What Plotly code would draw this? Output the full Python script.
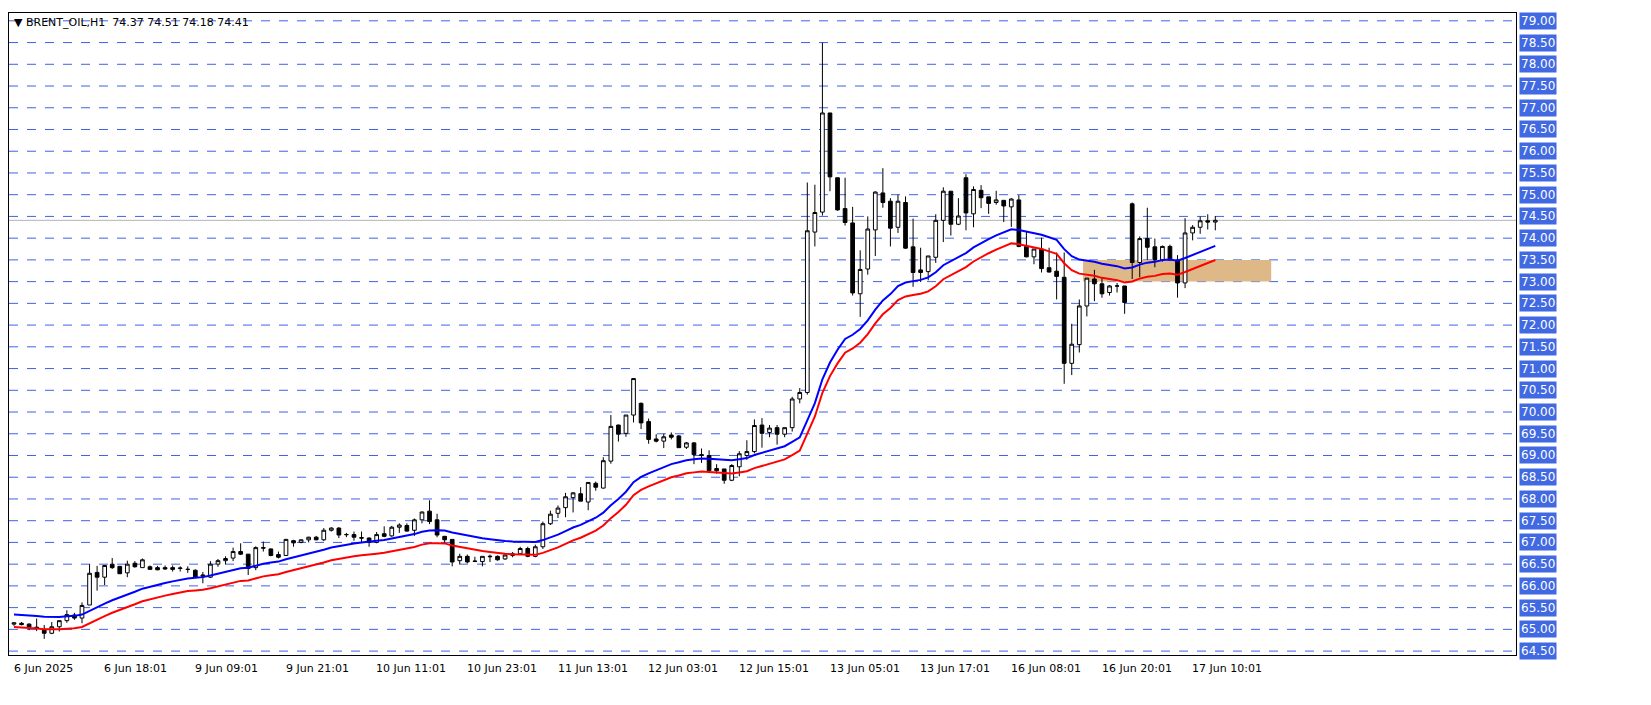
import plotly.graph_objects as go

opens = [65.12,65.14,65.12,65.05,65.0,64.91,65.06,65.2,65.33,65.26,65.56,66.31,66.2,66.5,66.45,66.3,66.52,66.42,66.44,66.42,
66.42,66.42,66.4,66.38,66.36,66.22,66.2,66.5,66.58,66.64,66.79,66.73,66.42,66.88,66.85,66.72,66.7,67.04,67.0,67.06,
67.12,67.06,67.28,67.33,67.18,67.18,67.11,67.1,67.0,67.2,67.15,67.35,67.39,67.28,67.52,67.72,67.52,67.14,67.07,66.58,
66.68,66.56,66.56,66.67,66.68,66.62,66.7,66.74,66.86,66.68,66.9,67.43,67.67,67.8,68.03,68.12,67.93,68.36,68.25,68.87,
69.7,69.51,69.93,70.2,69.78,69.38,69.33,69.47,69.45,69.19,69.29,69.02,69.0,68.7,68.69,68.43,68.74,69.0,69.09,69.7,
69.53,69.64,69.49,69.64,70.3,70.45,74.14,74.6,76.88,75.39,74.68,74.35,72.72,73.29,74.19,75.04,74.85,74.25,74.82,73.8,
73.27,73.23,73.56,74.41,75.08,74.32,75.39,74.56,75.1,74.95,74.82,74.87,74.72,74.88,73.81,73.57,73.75,73.32,73.24,73.1,
71.12,71.55,72.44,73.06,72.95,72.75,72.9,72.9,74.79,73.44,73.99,73.8,73.5,73.81,73.5,72.97,74.12,74.25,74.4,74.37]
highs = [65.16,65.17,65.14,65.25,65.1,65.17,65.2,65.44,65.38,65.62,66.5,66.46,66.48,66.64,66.45,66.58,66.57,66.63,66.47,66.46,
66.47,66.47,66.45,66.45,66.38,66.32,66.57,66.62,66.68,66.88,66.98,66.73,66.91,67.02,66.86,66.79,67.08,67.06,67.07,67.13,
67.15,67.33,67.35,67.35,67.22,67.25,67.25,67.12,67.24,67.37,67.38,67.44,67.44,67.55,67.71,67.97,67.66,67.15,67.07,66.74,
66.72,66.67,66.68,66.72,66.7,66.73,66.78,66.9,66.9,66.95,67.48,67.73,67.85,68.14,68.16,68.27,68.38,68.4,68.96,69.93,
69.71,69.93,70.77,70.22,69.85,69.49,69.5,69.53,69.47,69.31,69.31,69.16,69.12,68.8,68.69,68.8,69.1,69.35,69.83,69.86,
69.7,69.7,69.64,70.35,70.55,75.28,75.23,78.5,76.88,75.39,75.39,74.72,73.72,74.5,75.08,75.61,74.92,75.0,74.96,74.45,
73.78,73.59,74.55,75.17,75.08,74.92,75.47,75.19,75.22,74.95,75.09,74.87,74.92,74.99,74.15,73.75,74.01,73.78,73.67,73.67,
72.03,72.59,73.08,73.27,73.1,72.92,72.97,72.9,74.82,74.04,74.7,73.99,73.83,73.85,73.61,74.46,74.3,74.5,74.55,74.51]
lows = [65.08,65.09,64.98,64.96,64.78,64.89,64.95,65.15,65.22,65.14,65.56,65.89,66.02,66.39,66.28,66.2,66.42,66.42,66.37,66.36,
66.37,66.33,66.33,66.3,66.18,66.06,66.18,66.44,66.5,66.57,66.71,66.25,66.36,66.79,66.68,66.63,66.7,66.9,66.98,67.0,
67.05,67.03,67.25,67.1,67.12,67.04,67.0,66.9,66.98,67.12,67.13,67.22,67.25,67.15,67.44,67.42,67.12,66.97,66.45,66.5,
66.52,66.55,66.45,66.55,66.58,66.6,66.66,66.72,66.66,66.66,66.85,67.4,67.56,67.58,67.69,67.95,67.74,68.19,68.24,68.81,
69.32,69.43,69.76,69.61,69.27,69.3,69.17,69.37,69.18,69.15,68.8,68.83,68.64,68.58,68.35,68.41,68.52,68.9,69.05,69.18,
69.42,69.25,69.42,69.55,70.2,70.4,73.81,74.52,75.08,74.63,74.29,72.68,72.19,73.16,73.59,74.7,73.81,74.12,73.75,72.88,
72.99,73.03,73.43,73.91,74.06,74.3,74.18,74.25,74.69,74.56,74.77,74.37,74.26,73.79,73.56,73.4,73.21,73.21,72.59,70.65,
70.85,71.37,72.2,72.55,72.63,72.68,72.75,72.26,73.06,73.1,73.5,73.33,73.46,73.48,72.63,72.85,73.95,74.1,74.2,74.18]
closes = [65.15,65.11,65.05,65.02,64.91,65.06,65.2,65.34,65.26,65.55,66.29,66.2,66.47,66.42,66.28,66.5,66.44,66.6,66.38,66.37,
66.39,66.38,66.41,66.38,66.2,66.25,66.5,66.58,66.63,66.79,66.73,66.4,66.88,66.87,66.7,66.66,67.07,66.99,67.06,67.12,
67.06,67.28,67.33,67.17,67.18,67.12,67.1,67.0,67.18,67.14,67.35,67.4,67.26,67.52,67.7,67.48,67.17,67.06,66.55,66.68,
66.55,66.57,66.68,66.68,66.6,66.71,66.74,66.86,66.68,66.9,67.43,67.65,67.79,68.05,68.14,67.95,68.38,68.27,68.88,69.67,
69.49,69.93,70.77,69.75,69.37,69.33,69.43,69.42,69.18,69.29,69.02,69.0,68.65,68.65,68.43,68.77,69.04,69.09,69.69,69.51,
69.63,69.49,69.64,70.3,70.45,74.17,74.59,76.88,75.41,74.65,74.36,72.74,73.28,74.21,75.06,74.82,74.23,74.85,73.77,73.21,
73.21,73.59,74.41,75.08,74.32,74.51,74.58,75.12,74.93,74.8,74.88,74.74,74.9,73.81,73.57,73.75,73.3,73.22,73.12,71.12,
71.56,72.44,73.08,72.95,72.72,72.9,72.9,72.52,73.44,73.99,73.79,73.5,73.81,73.5,72.97,74.12,74.25,74.4,74.37,74.41]

tick_labels = ["6 Jun 2025","6 Jun 18:01","9 Jun 09:01","9 Jun 21:01","10 Jun 11:01","10 Jun 23:01",
               "11 Jun 13:01","12 Jun 03:01","12 Jun 15:01","13 Jun 05:01","13 Jun 17:01","16 Jun 08:01",
               "16 Jun 20:01","17 Jun 10:01"]
price_levels = [64.5 + 0.5*k for k in range(30)]
last_price = 74.41
zone_low, zone_high = 73.0, 73.5
ma_period = 24
ma_seed = 65.2
envelope_dev = 0.0022

idx = list(range(len(closes)))

def ema(vals, n, seed):
    a = 2/(n+1); out=[]; e=seed
    for v in vals:
        e = e + a*(v-e); out.append(e)
    return out

ma = ema(closes, ma_period, ma_seed)
env_up = [m*(1+envelope_dev) for m in ma]
env_dn = [m*(1-envelope_dev) for m in ma]

fig = go.Figure()
fig.add_shape(type="rect", x0=141.5, x1=166.4, y0=zone_low, y1=zone_high,
              fillcolor="#DEB887", line_width=0, layer="below")
for p in price_levels:
    fig.add_shape(type="line", xref="paper", x0=0, x1=1, y0=p, y1=p,
                  line=dict(color="#3F62E6", width=1, dash="dash"), layer="below")
fig.add_shape(type="line", xref="paper", x0=0, x1=1, y0=last_price, y1=last_price,
              line=dict(color="#B4B4B4", width=1), layer="below")

fig.add_trace(go.Candlestick(x=idx, open=opens, high=highs, low=lows, close=closes,
    increasing=dict(line=dict(color="black", width=1), fillcolor="white"),
    decreasing=dict(line=dict(color="black", width=1), fillcolor="black"),
    whiskerwidth=0, showlegend=False, hoverinfo="skip"))
fig.add_trace(go.Scatter(x=idx, y=env_up, mode="lines", line=dict(color="#0000FF", width=2), showlegend=False))
fig.add_trace(go.Scatter(x=idx, y=env_dn, mode="lines", line=dict(color="#FF0000", width=2), showlegend=False))

ann = []
for p in price_levels:
    ann.append(dict(xref="paper", x=1.002, y=p, text=f"{p:.2f}", showarrow=False, xanchor="left",
                    yanchor="middle", bgcolor="#4169E1", font=dict(color="white", size=12, family="DejaVu Sans"),
                    borderpad=1))
for k, t in enumerate(tick_labels):
    ann.append(dict(x=12*k - 0.3, yref="paper", y=-0.008, text=t, showarrow=False, xanchor="left",
                    yanchor="top", font=dict(color="black", size=11, family="DejaVu Sans")))
ann.append(dict(xref="paper", yref="paper", x=0.002, y=0.998, xanchor="left", yanchor="top",
                text="▼ BRENT_OIL,H1  74.37 74.51 74.18 74.41", showarrow=False,
                font=dict(color="black", size=11, family="DejaVu Sans")))

fig.update_layout(
    width=1651, height=705, margin=dict(l=1, r=143, t=5, b=58),
    paper_bgcolor="white", plot_bgcolor="white", annotations=ann,
    xaxis=dict(range=[-0.66, 198.8], showgrid=False, showticklabels=False, zeroline=False,
               rangeslider=dict(visible=False), showline=True, linecolor="black", mirror=True),
    yaxis=dict(range=[64.41, 79.18], showgrid=False, showticklabels=False, zeroline=False,
               showline=True, linecolor="black", mirror=True),
)
fig.write_html("out.html")
